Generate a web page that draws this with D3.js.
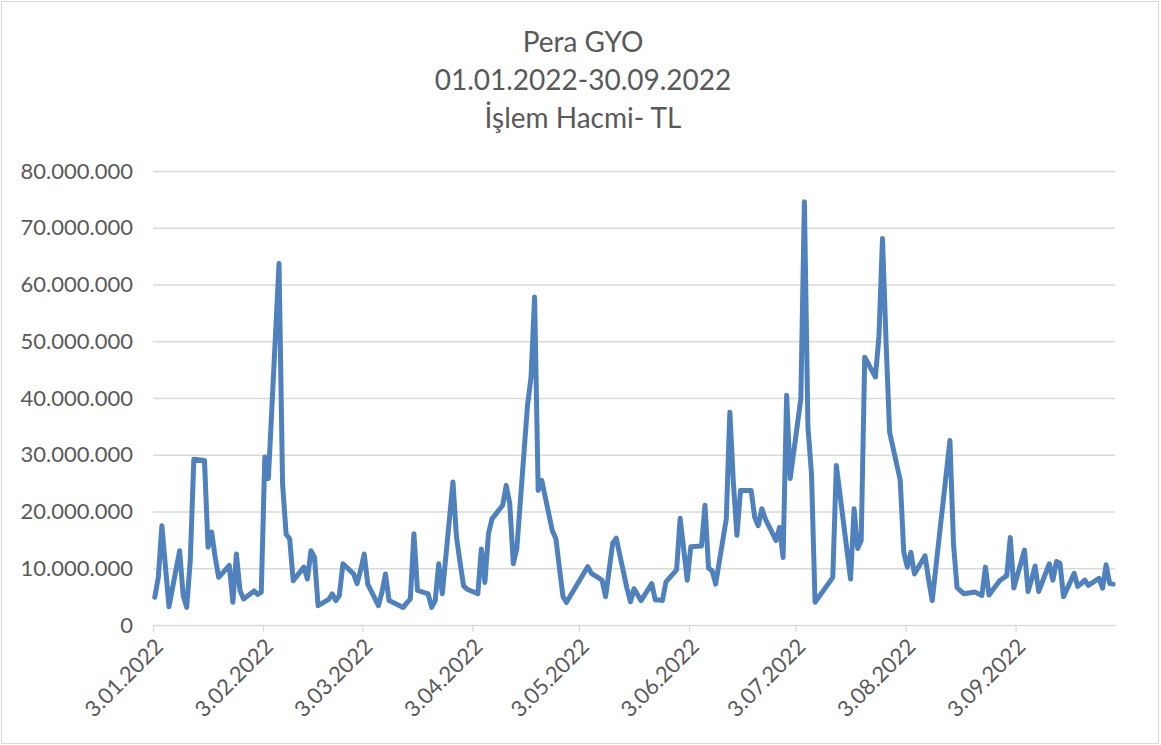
<!DOCTYPE html>
<html>
<head>
<meta charset="utf-8">
<script src="https://cdn.jsdelivr.net/npm/d3@7"></script>
<style>
  html, body { margin: 0; padding: 0; background: #ffffff; }
  svg { display: block; }
</style>
</head>
<body>
<svg id="chart" width="1161" height="745"></svg>
<script>
// ---------------- DATA ----------------
const titleLines = ["Pera GYO", "01.01.2022-30.09.2022", "İşlem Hacmi- TL"];

const tradeDates = [
  "2022-01-03","2022-01-04","2022-01-05","2022-01-06","2022-01-07",
  "2022-01-10","2022-01-11","2022-01-12","2022-01-13","2022-01-14",
  "2022-01-17","2022-01-18","2022-01-19","2022-01-20","2022-01-21",
  "2022-01-24","2022-01-25","2022-01-26","2022-01-27","2022-01-28",
  "2022-01-31","2022-02-01","2022-02-02","2022-02-03","2022-02-04",
  "2022-02-07","2022-02-08","2022-02-09","2022-02-10","2022-02-11",
  "2022-02-14","2022-02-15","2022-02-16","2022-02-17","2022-02-18",
  "2022-02-21","2022-02-22","2022-02-23","2022-02-24","2022-02-25",
  "2022-02-28","2022-03-01","2022-03-02","2022-03-03","2022-03-04",
  "2022-03-07","2022-03-08","2022-03-09","2022-03-10","2022-03-11",
  "2022-03-14","2022-03-15","2022-03-16","2022-03-17","2022-03-18",
  "2022-03-21","2022-03-22","2022-03-23","2022-03-24","2022-03-25",
  "2022-03-28","2022-03-29","2022-03-30","2022-03-31","2022-04-01",
  "2022-04-04","2022-04-05","2022-04-06","2022-04-07","2022-04-08",
  "2022-04-11","2022-04-12","2022-04-13","2022-04-14","2022-04-15",
  "2022-04-18","2022-04-19","2022-04-20","2022-04-21","2022-04-22",
  "2022-04-25","2022-04-26","2022-04-27","2022-04-28","2022-04-29",
  "2022-05-05","2022-05-06",
  "2022-05-09","2022-05-10","2022-05-11","2022-05-12","2022-05-13",
  "2022-05-16","2022-05-17","2022-05-18","2022-05-20",
  "2022-05-23","2022-05-24","2022-05-25","2022-05-26","2022-05-27",
  "2022-05-30","2022-05-31","2022-06-01","2022-06-02","2022-06-03",
  "2022-06-06","2022-06-07","2022-06-08","2022-06-09","2022-06-10",
  "2022-06-13","2022-06-14","2022-06-15","2022-06-16","2022-06-17",
  "2022-06-20","2022-06-21","2022-06-22","2022-06-23","2022-06-24",
  "2022-06-27","2022-06-28","2022-06-29","2022-06-30","2022-07-01",
  "2022-07-04","2022-07-05","2022-07-06","2022-07-07","2022-07-08",
  "2022-07-13","2022-07-14",
  "2022-07-18","2022-07-19","2022-07-20","2022-07-21","2022-07-22",
  "2022-07-25","2022-07-26","2022-07-27","2022-07-28","2022-07-29",
  "2022-08-01","2022-08-02","2022-08-03","2022-08-04","2022-08-05",
  "2022-08-08","2022-08-09","2022-08-10","2022-08-11","2022-08-12",
  "2022-08-15","2022-08-16","2022-08-17","2022-08-18","2022-08-19",
  "2022-08-22","2022-08-23","2022-08-24","2022-08-25","2022-08-26",
  "2022-08-29","2022-08-31","2022-09-01","2022-09-02",
  "2022-09-05","2022-09-06","2022-09-07","2022-09-08","2022-09-09",
  "2022-09-12","2022-09-13","2022-09-14","2022-09-15","2022-09-16",
  "2022-09-19","2022-09-20","2022-09-21","2022-09-22","2022-09-23",
  "2022-09-26","2022-09-27","2022-09-28","2022-09-29","2022-09-30"
];

// Trading volume, millions of TL
const volumesM = [
  4.9, 8.4, 17.5, 10.3, 3.2,
  13.1, 5.2, 3.1, 11.4, 29.2,
  29.0, 13.7, 16.4, 12.0, 8.4,
  10.5, 4.0, 12.5, 6.1, 4.6,
  6.0, 5.4, 5.8, 29.6, 25.8,
  63.7, 24.9, 16.0, 15.2, 7.8,
  10.2, 8.1, 13.1, 11.9, 3.4,
  4.5, 5.5, 4.3, 5.2, 10.8,
  9.0, 7.3, 9.7, 12.5, 7.2,
  3.4, 5.8, 9.0, 4.3, 4.0,
  3.1, 3.9, 4.6, 16.1, 6.1,
  5.5, 3.1, 4.3, 10.8, 5.5,
  25.2, 15.5, 11.0, 6.9, 6.3,
  5.5, 13.4, 7.5, 16.1, 18.7,
  21.1, 24.6, 21.4, 10.8, 13.5,
  38.7, 43.7, 57.8, 23.7, 25.5,
  16.6, 15.2, 10.0, 5.0, 4.0,
  10.3, 9.1,
  7.9, 5.0, 9.7, 14.4, 15.3,
  6.5, 4.1, 6.4, 4.3,
  7.3, 4.4, 4.4, 4.3, 7.6,
  9.7, 18.8, 13.4, 7.9, 13.8,
  13.9, 21.1, 10.0, 9.6, 7.2,
  18.7, 37.5, 25.0, 15.8, 23.7,
  23.7, 19.0, 17.5, 20.5, 18.7,
  14.9, 17.2, 11.9, 40.5, 25.8,
  39.9, 74.6, 34.9, 26.6, 4.0,
  8.4, 28.1,
  8.1, 20.5, 13.5, 14.9, 47.2,
  43.7, 50.8, 68.1, 50.0, 34.0,
  25.5, 12.8, 10.2, 12.8, 9.0,
  12.2, 8.0, 4.3, 9.9, 15.6,
  32.5, 14.3, 6.6, 6.0, 5.5,
  5.8, 5.5, 5.2, 10.2, 5.3,
  7.8, 8.7, 15.4, 6.5,
  13.2, 5.9, 8.0, 10.4, 5.9,
  10.8, 7.9, 11.2, 10.9, 5.0,
  9.1, 6.8, 7.3, 7.9, 7.0,
  8.2, 6.5, 10.6, 7.3, 7.2
];

const xTickDates = ["2022-01-03","2022-02-03","2022-03-03","2022-04-03","2022-05-03",
                    "2022-06-03","2022-07-03","2022-08-03","2022-09-03"];
const xTickLabels = ["3.01.2022","3.02.2022","3.03.2022","3.04.2022","3.05.2022",
                     "3.06.2022","3.07.2022","3.08.2022","3.09.2022"];
const yTicks = [0, 10000000, 20000000, 30000000, 40000000, 50000000, 60000000, 70000000, 80000000];

// ---------------- CHART ----------------
const W = 1161, H = 745;
const plot = { left: 153, right: 1115, top: 171, bottom: 625 };
const textColor = "#595959";
const gridColor = "#d9d9d9";
const lineColor = "#4f81bd";
const fontFam = "Lato, 'Open Sans', sans-serif";

const parse = s => { const [yy, m, d] = s.split("-").map(Number); return new Date(Date.UTC(yy, m - 1, d)); };

const data = tradeDates.map((d, i) => ({ date: parse(d), value: volumesM[i] * 1e6 }));

const svg = d3.select("#chart");

svg.append("rect")
  .attr("x", 1.5).attr("y", 1.5).attr("width", W - 4).attr("height", H - 3)
  .attr("fill", "#ffffff").attr("stroke", gridColor).attr("stroke-width", 1);

const x = d3.scaleUtc()
  .domain([parse("2022-01-03"), parse("2022-10-01")])
  .range([plot.left, plot.right]);

const y = d3.scaleLinear()
  .domain([0, 80000000])
  .range([plot.bottom, plot.top]);

const trLocale = d3.formatLocale({ decimal: ",", thousands: ".", grouping: [3], currency: ["", " TL"] });
const fmt = trLocale.format(",");

// Title
const title = svg.append("g").attr("font-family", fontFam).attr("fill", textColor)
  .attr("font-size", 28).attr("text-anchor", "middle");
titleLines.forEach((t, i) => {
  title.append("text").attr("x", 583).attr("y", 52 + i * 38).text(t);
});

// Y grid + labels
const yAxis = d3.axisLeft(y).tickValues(yTicks).tickSize(-(plot.right - plot.left)).tickFormat(fmt).tickPadding(20);
const yG = svg.append("g").attr("transform", `translate(${plot.left},0)`).call(yAxis);
yG.select(".domain").remove();
yG.selectAll(".tick line").attr("stroke", gridColor).attr("stroke-width", 1.3)
  .attr("stroke-opacity", d => d === 0 ? 0 : 1);
yG.selectAll(".tick text").attr("fill", textColor).attr("font-size", 22)
  .attr("font-family", fontFam);

// X axis
const xAxis = d3.axisBottom(x).tickValues(xTickDates.map(parse))
  .tickFormat((d, i) => xTickLabels[i]).tickSize(7).tickSizeOuter(0);
const xG = svg.append("g").attr("transform", `translate(0,${plot.bottom})`).call(xAxis);
xG.select(".domain").attr("stroke", gridColor).attr("stroke-width", 1.3);
xG.selectAll(".tick line").attr("stroke", gridColor).attr("stroke-width", 1.3);
xG.selectAll(".tick text")
  .attr("fill", textColor).attr("font-size", 22).attr("font-family", fontFam)
  .attr("text-anchor", "end")
  .attr("dy", null).attr("y", null)
  .attr("transform", "translate(11,23) rotate(-45)");

// Line
const line = d3.line()
  .x(d => x(d3.utcHour.offset(d.date, 12)))
  .y(d => y(d.value));

svg.append("path").datum(data)
  .attr("d", line)
  .attr("fill", "none")
  .attr("stroke", lineColor)
  .attr("stroke-width", 5)
  .attr("stroke-linejoin", "round")
  .attr("stroke-linecap", "round");
</script>
</body>
</html>
